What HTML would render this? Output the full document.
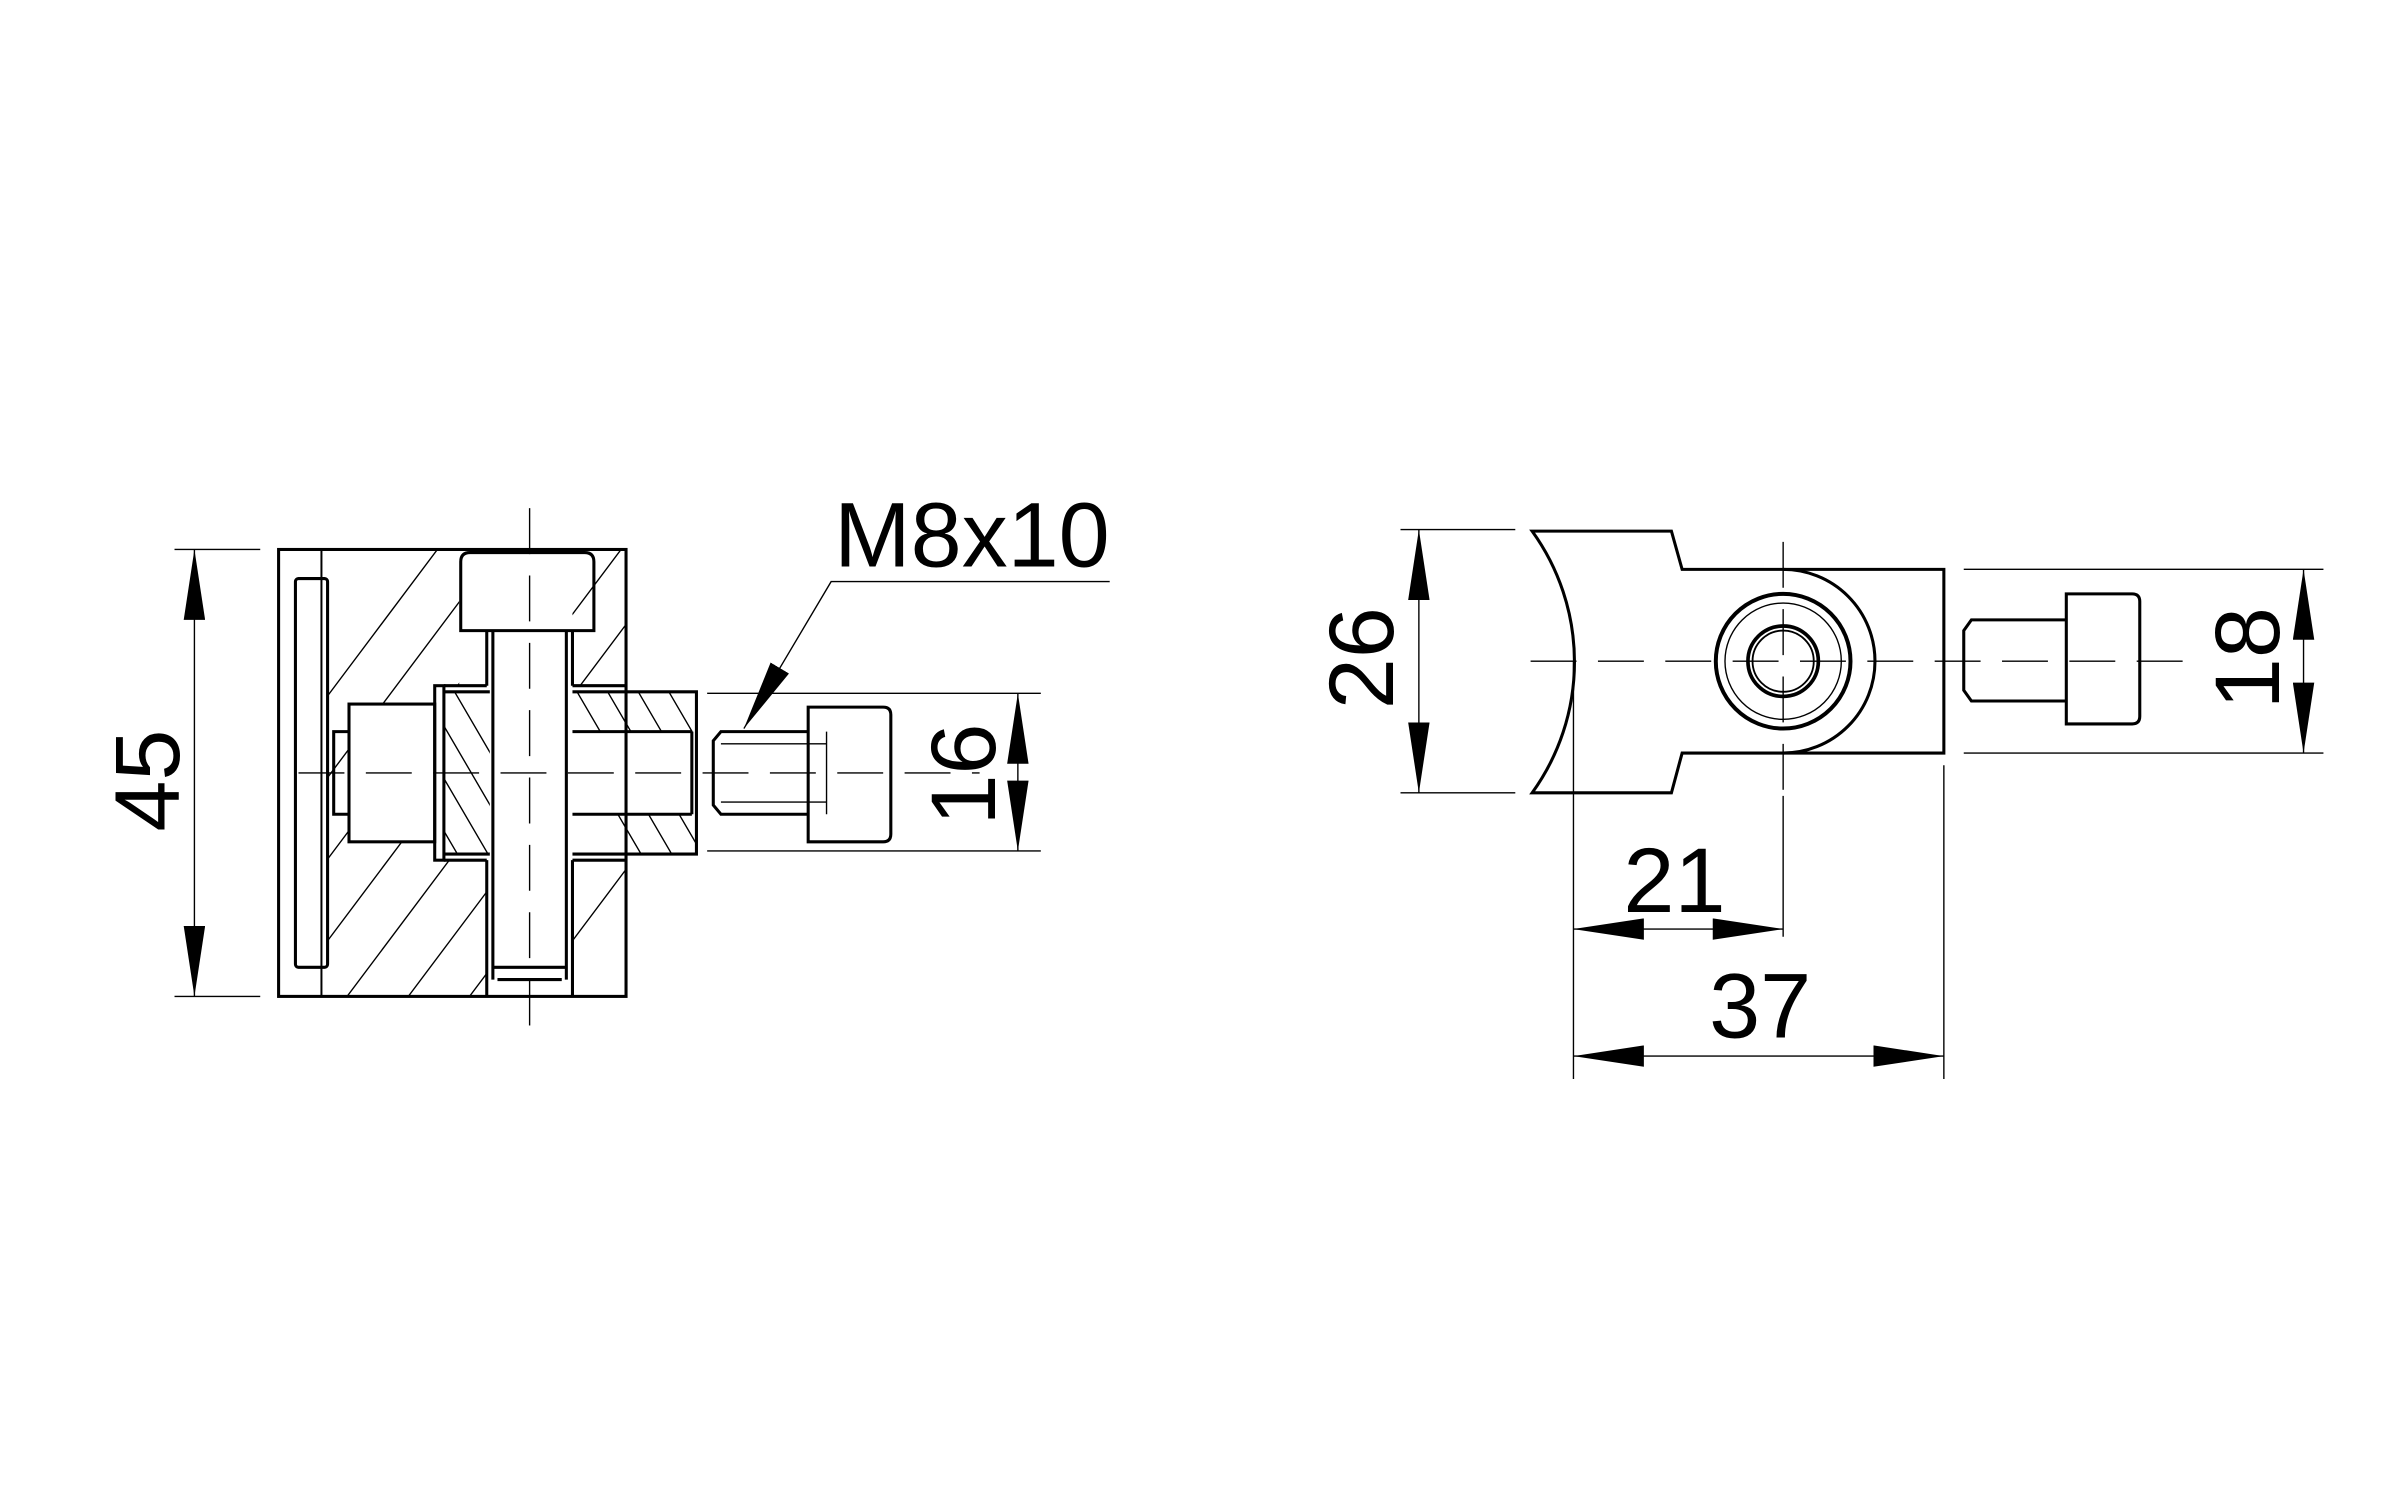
<!DOCTYPE html>
<html><head><meta charset="utf-8"><style>
html,body{margin:0;padding:0;background:#fff;}
svg{display:block;}
text{font-family:"Liberation Sans",sans-serif;fill:#000;}
</style></head><body>
<svg width="2400" height="1507" viewBox="0 0 1568 984.6" xmlns="http://www.w3.org/2000/svg">
<defs>
<marker id="a" viewBox="0 0 46 14" refX="46" refY="7" markerWidth="46" markerHeight="14" markerUnits="userSpaceOnUse" orient="auto-start-reverse"><path d="M0,0 L46,7 L0,14 Z" fill="#000"/></marker>
<clipPath id="c1"><path d="M214,360 H300 V448 H284 V460 H228 V550 H284 V562 H318 V651 H214 Z M374,360 H408 V448 H374 Z M374,562 H408 V651 H374 Z"/></clipPath>
<clipPath id="c2"><path d="M374,452 H455 V478 H374 Z M374,532 H455 V558 H374 Z M290,452 H320 V558 H290 Z"/></clipPath>
</defs>
<rect width="1568" height="984.6" fill="#fff"/>

<!-- LEFT VIEW -->
<g stroke="#000" fill="none">
<g clip-path="url(#c1)" stroke-width="0.9">
<path d="M150,700 L450,300 M190,700 L490,300 M230,700 L530,300 M270,700 L570,300 M110,700 L410,300 M70,700 L370,300 M30,700 L330,300 M310,700 L610,300"/>
</g>
<g clip-path="url(#c2)" stroke-width="0.9">
<path d="M270,440 L340,560 M290,440 L360,560 M250,440 L320,560 M230,440 L300,560 M370,440 L440,560 M390,440 L460,560 M410,440 L480,560 M430,440 L500,560 M350,440 L420,560 M450,440 L520,560"/>
</g>
<g stroke-width="2">
<rect x="182" y="359" width="227" height="292"/>
<line x1="210" y1="359" x2="210" y2="651" stroke-width="1.3"/>
<rect x="193" y="378" width="21" height="254" rx="2"/>
<path d="M301,412 V367 Q301,361 307,361 H382 Q388,361 388,367 V412 Z"/>
<path d="M318,412 V448 M374,412 V448 M318,562 V651 M374,562 V651"/>
<path d="M322,412 V640 M370,412 V640 M322,632 H370 M325,640 H367"/>
<path d="M374,448 H408 M374,562 H408 M290,448 H318 M290,562 H318"/>
<rect x="284" y="448" width="6" height="114"/>
<rect x="228" y="460" width="56" height="90"/>
<path d="M228,478 H218 V532 H228"/>
<path d="M374,452 H455 V558 H374 M374,478 H452 M374,532 H452 M452,478 V532"/>
<path d="M290,452 H320 M290,558 H320"/>
<path d="M528,478 H471 L466,484 V526 L471,532 H528"/>
<path d="M528,550 V462 H577 Q582,462 582,467 V545 Q582,550 577,550 Z"/>
</g>
<path d="M540,478 V532 M471,486 H540 M471,524 H540" stroke-width="0.9"/>
<g stroke-width="0.9" stroke-dasharray="30,14">
<line x1="195" y1="505" x2="640" y2="505"/>
<line x1="346" y1="332" x2="346" y2="670"/>
</g>
<g stroke-width="0.9">
<path d="M114,359 H170 M114,651 H170"/>
<line x1="127" y1="359" x2="127" y2="651" marker-start="url(#a)" marker-end="url(#a)"/>
<path d="M462,453 H680 M462,556 H680"/>
<line x1="665" y1="453" x2="665" y2="556" marker-start="url(#a)" marker-end="url(#a)"/>
<path d="M725,380 H543 L486,476" marker-end="url(#a)"/>
</g>
</g>
<text x="0" y="0" font-size="60" text-anchor="middle" transform="translate(117,510) rotate(-90)">45</text>
<text x="0" y="0" font-size="60" text-anchor="middle" transform="translate(650,506) rotate(-90)">16</text>
<text x="635" y="370" font-size="60" text-anchor="middle">M8x10</text>

<!-- RIGHT VIEW -->
<g stroke="#000" fill="none">
<g stroke-width="2">
<path d="M1001,347 H1092 L1099,372 H1270 V492 H1099 L1092,518 H1001 A146,146 0 0 0 1001,347 Z"/>
<path d="M1165,372 A60,60 0 0 1 1165,492"/>
<circle cx="1165" cy="432" r="44" stroke-width="2.6"/>
<circle cx="1165" cy="432" r="23" stroke-width="2.4"/>
<circle cx="1165" cy="432" r="20" stroke-width="1.2"/>
<path d="M1350,405 H1288 L1283,412 V451 L1288,458 H1350"/>
<path d="M1350,473 V388 H1393 Q1398,388 1398,393 V468 Q1398,473 1393,473 Z"/>
</g>
<circle cx="1165" cy="432" r="38" stroke-width="0.9"/>
<g stroke-width="0.9" stroke-dasharray="30,14">
<line x1="1000" y1="432" x2="1440" y2="432"/>
<line x1="1165" y1="354" x2="1165" y2="520"/>
</g>
<g stroke-width="0.9">
<path d="M915,346 H990 M915,518 H990"/>
<line x1="927" y1="346" x2="927" y2="518" marker-start="url(#a)" marker-end="url(#a)"/>
<path d="M1283,372 H1518 M1283,492 H1518"/>
<line x1="1505" y1="372" x2="1505" y2="492" marker-start="url(#a)" marker-end="url(#a)"/>
<path d="M1028,432 V705 M1165,520 V612 M1270,500 V705"/>
<line x1="1028" y1="607" x2="1165" y2="607" marker-start="url(#a)" marker-end="url(#a)"/>
<line x1="1028" y1="690" x2="1270" y2="690" marker-start="url(#a)" marker-end="url(#a)"/>
</g>
</g>
<text x="0" y="0" font-size="60" text-anchor="middle" transform="translate(910,430) rotate(-90)">26</text>
<text x="0" y="0" font-size="60" text-anchor="middle" transform="translate(1489,430) rotate(-90)">18</text>
<text x="1094" y="596" font-size="60" text-anchor="middle">21</text>
<text x="1150" y="678" font-size="60" text-anchor="middle">37</text>
</svg>
</body></html>
